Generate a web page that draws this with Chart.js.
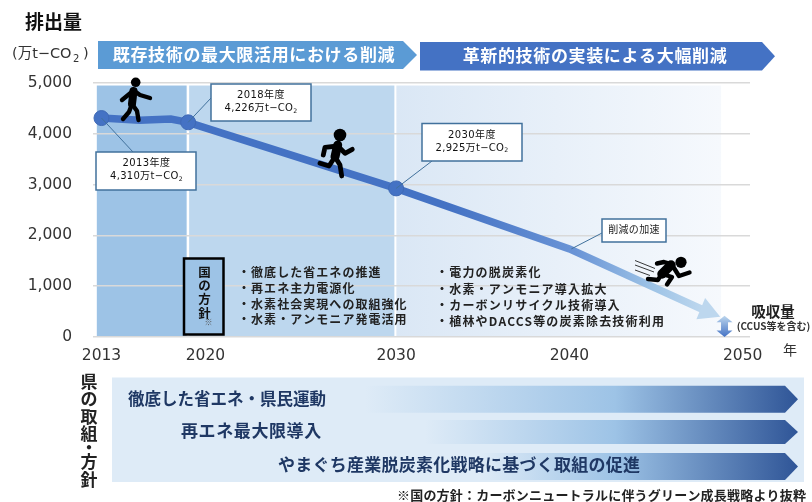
<!DOCTYPE html>
<html lang="ja">
<head>
<meta charset="utf-8">
<title>排出量</title>
<style>html,body{margin:0;padding:0;background:#fff}canvas{display:block}</style>
<script src="https://cdn.jsdelivr.net/npm/chart.js@4"></script>
</head>
<body>
<canvas id="c" width="812" height="502"></canvas>
<script>
// ---- data ----
const years = [2013, 2015.2, 2017, 2018, 2030, 2040, 2047.7];
const emissions = [4310, 4265, 4290, 4226, 2925, 1735, 540];
const markedYears = [2013, 2018, 2030];
const arrowTipYear = 2048.7;
const arrowTipValue = 400;
const absorptionYear = 2048.95;
const absorptionValue = 420;
const xTickYears = [2013, 2019, 2030, 2040, 2050];
const xTickLabels = ["2013", "2020", "2030", "2040", "2050"];
const yTicks = [0, 1000, 2000, 3000, 4000, 5000];
const bandEdges = [2012.73, 2018, 2029.9, 2048.75];
const bandTop = 4950;
const nationalPolicy = ["・徹底した省エネの推進", "・再エネ主力電源化", "・水素社会実現への取組強化", "・水素・アンモニア発電活用"];
const innovationPolicy = ["・電力の脱炭素化", "・水素・アンモニア導入拡大", "・カーボンリサイクル技術導入", "・植林やDACCS等の炭素除去技術利用"];
const prefActions = ["徹底した省エネ・県民運動", "再エネ最大限導入", "やまぐち産業脱炭素化戦略に基づく取組の促進"];

// ---- fonts / colours ----
const JP = '"Noto Sans CJK JP"';
const MIX = '"DejaVu Sans","Noto Sans CJK JP"';
const BLUE = '#4472c4', LIGHT = '#9dc3e6', PALE = '#bdd7ee', BG = '#deebf7';

function text(ctx, s, x, y, font, color, align, spacing) {
  ctx.save();
  ctx.font = font; ctx.fillStyle = color;
  ctx.textAlign = align || 'left'; ctx.textBaseline = 'middle';
  ctx.letterSpacing = (spacing || 0) + 'px';
  ctx.fillText(s, x, y);
  ctx.restore();
}
function co2(ctx, head, cx, y, size, color, spacing) {
  ctx.save();
  const f = `${size}px ${MIX}`, fs = `${size * 0.62}px ${MIX}`;
  ctx.font = f; ctx.letterSpacing = spacing + 'px';
  const w = ctx.measureText(head).width;
  ctx.font = fs; const ws = ctx.measureText('2').width;
  ctx.restore();
  const x0 = cx - (w + ws) / 2;
  text(ctx, head, x0, y, f, color, 'left', spacing);
  text(ctx, '2', x0 + w, y + size * 0.28, fs, color, 'left', 0);
}
function callout(ctx, x, y, w, h, lx0, ly0, lx1, ly1) {
  ctx.save();
  ctx.strokeStyle = '#41719c'; ctx.lineWidth = 1;
  ctx.beginPath(); ctx.moveTo(lx0, ly0); ctx.lineTo(lx1, ly1); ctx.stroke();
  ctx.lineWidth = 1.5; ctx.fillStyle = '#fff';
  ctx.fillRect(x, y, w, h); ctx.strokeRect(x, y, w, h);
  ctx.restore();
}
function poly(ctx, pts, width) {
  ctx.lineWidth = width; ctx.lineCap = 'round'; ctx.lineJoin = 'round';
  ctx.beginPath(); pts.forEach((p, i) => i ? ctx.lineTo(p[0], p[1]) : ctx.moveTo(p[0], p[1])); ctx.stroke();
}
function figure(ctx, head, r, limbs, limbW, torso, torsoW) {
  ctx.save();
  ctx.strokeStyle = '#000'; ctx.fillStyle = '#000';
  ctx.beginPath(); ctx.arc(head[0], head[1], r, 0, Math.PI * 2); ctx.fill();
  poly(ctx, torso, torsoW);
  limbs.forEach(l => poly(ctx, l, limbW));
  ctx.restore();
}
function banner(ctx, x0, bodyEnd, tip, y0, y1, color) {
  ctx.fillStyle = color;
  ctx.beginPath();
  ctx.moveTo(x0, y0); ctx.lineTo(bodyEnd, y0); ctx.lineTo(tip, (y0 + y1) / 2);
  ctx.lineTo(bodyEnd, y1); ctx.lineTo(x0, y1); ctx.closePath(); ctx.fill();
}

const bandsPlugin = {
  id: 'bands',
  beforeDraw(chart) {
    const { ctx } = chart, x = chart.scales.x, y = chart.scales.y;
    const top = y.getPixelForValue(bandTop), bot = y.getPixelForValue(0);
    const e = bandEdges.map(v => x.getPixelForValue(v));
    ctx.save();
    ctx.fillStyle = LIGHT; ctx.fillRect(e[0], top, e[1] - e[0] - 1.5, bot - top);
    ctx.fillStyle = PALE; ctx.fillRect(e[1] + 1, top, e[2] - e[1] - 1, bot - top);
    const g = ctx.createLinearGradient(e[2], 0, e[3], 0);
    g.addColorStop(0, '#dae7f5'); g.addColorStop(1, '#f6f9fd');
    ctx.fillStyle = g; ctx.fillRect(e[2] + 2, top, e[3] - e[2] - 2, bot - top);
    ctx.restore();
  }
};

const overlayPlugin = {
  id: 'overlay',
  afterDatasetsDraw(chart) {
    const { ctx } = chart, x = chart.scales.x, y = chart.scales.y;
    const px = v => x.getPixelForValue(v), py = v => y.getPixelForValue(v);

    // arrow head at the end of the line
    const n = years.length - 1;
    const bx = px(years[n]), by = py(emissions[n]), tx = px(arrowTipYear), ty = py(arrowTipValue);
    const ang = Math.atan2(ty - by, tx - bx), L = 21, W = 11.5;
    const ax = tx - Math.cos(ang) * L, ay = ty - Math.sin(ang) * L;
    ctx.save();
    ctx.fillStyle = '#bdd7ee';
    ctx.beginPath(); ctx.moveTo(tx, ty);
    ctx.lineTo(ax + Math.sin(ang) * W, ay - Math.cos(ang) * W);
    ctx.lineTo(ax - Math.sin(ang) * W, ay + Math.cos(ang) * W);
    ctx.closePath(); ctx.fill();

    // absorption double arrow
    const dx = px(absorptionYear), dt = py(absorptionValue), db = py(0);
    const g = ctx.createLinearGradient(0, dt, 0, db);
    g.addColorStop(0, '#bdd7ee'); g.addColorStop(1, BLUE);
    ctx.fillStyle = g;
    ctx.beginPath();
    ctx.moveTo(dx, dt); ctx.lineTo(dx + 8, dt + 6.5); ctx.lineTo(dx + 3.5, dt + 6.5);
    ctx.lineTo(dx + 3.5, db - 6.5); ctx.lineTo(dx + 8, db - 6.5); ctx.lineTo(dx, db);
    ctx.lineTo(dx - 8, db - 6.5); ctx.lineTo(dx - 3.5, db - 6.5); ctx.lineTo(dx - 3.5, dt + 6.5);
    ctx.lineTo(dx - 8, dt + 6.5); ctx.closePath(); ctx.fill();
    ctx.restore();

    // headings
    text(ctx, '排出量', 25, 22, `bold 19px ${JP}`, '#111', 'left', 0);
    text(ctx, '(万t−CO', 12, 54, `14.5px ${MIX}`, '#333', 'left', 0);
    text(ctx, '2', 73, 59, `10px ${MIX}`, '#333', 'left', 0);
    text(ctx, ')', 83, 54, `14.5px ${MIX}`, '#333', 'left', 0);

    // phase banners
    banner(ctx, 98, 403, 417, 41, 69, '#5b9bd5');
    banner(ctx, 420, 762, 775, 42, 70.5, BLUE);
    text(ctx, '既存技術の最大限活用における削減', 254, 55, `bold 17px ${JP}`, '#fff', 'center', 0.65);
    text(ctx, '革新的技術の実装による大幅削減', 595, 56, `bold 17px ${JP}`, '#fff', 'center', 0.65);

    // callouts
    callout(ctx, 211, 84, 100, 37, px(2018), py(4226), 211, 98);
    text(ctx, '2018年度', 261, 95, `10px ${MIX}`, '#111', 'center', 0.4);
    co2(ctx, '4,226万t−CO', 261, 108.5, 10, '#111', 0.3);

    callout(ctx, 96, 152, 100, 38, px(2013), py(4310), 133, 152);
    text(ctx, '2013年度', 146.5, 163.5, `10px ${MIX}`, '#111', 'center', 0.4);
    co2(ctx, '4,310万t−CO', 146.5, 176.5, 10, '#111', 0.3);

    callout(ctx, 422, 123.5, 100, 37.5, px(2030), py(2925), 432, 161);
    text(ctx, '2030年度', 472, 135, `10px ${MIX}`, '#111', 'center', 0.4);
    co2(ctx, '2,925万t−CO', 472, 148, 10, '#111', 0.3);

    callout(ctx, 602, 219, 64, 23, px(2040) + 2, py(1735), 602, 233);
    text(ctx, '削減の加速', 634, 229.5, `10px ${JP}`, '#222', 'center', 0.3);

    // national policy box
    ctx.save();
    ctx.fillStyle = LIGHT; ctx.strokeStyle = '#000'; ctx.lineWidth = 2.5;
    ctx.fillRect(184, 258.5, 39.5, 76); ctx.strokeRect(184, 258.5, 39.5, 76);
    ctx.restore();
    [['国', 272], ['の', 285], ['方', 299], ['針', 313]].forEach(c =>
      text(ctx, c[0], 204.5, c[1], `bold 12.5px ${JP}`, '#111', 'center'));
    text(ctx, '※', 208.5, 322, `8px ${JP}`, '#555', 'center');

    const ly1 = [272, 288, 304, 319], ly2 = [272.5, 289, 305, 321];
    nationalPolicy.forEach((s, i) => text(ctx, s, 238, ly1[i], `bold 12px ${JP}`, '#222', 'left', 1.05));
    innovationPolicy.forEach((s, i) => text(ctx, s, 436, ly2[i], `bold 12px ${JP}`, '#222', 'left', 1.2));

    // absorption label and axis unit
    text(ctx, '吸収量', 773, 311, `bold 14.5px ${JP}`, '#222', 'center');
    text(ctx, '(CCUS等を含む)', 773.5, 326, `bold 10px ${JP}`, '#333', 'center');
    text(ctx, '年', 790, 350, `14px ${JP}`, '#333', 'center');

    // runners
    figure(ctx, [135.7, 82.3], 4.8,
      [[[133, 91], [122, 100]], [[133, 90], [140, 95], [150, 98]],
       [[132, 104], [129, 112], [123, 119]], [[132, 104], [137, 111], [138.5, 120]]],
      4.4, [[133.5, 91], [132, 104]], 8);
    figure(ctx, [340, 135], 6.3,
      [[[337.7, 146], [325, 147.3], [323.3, 155]], [[340, 148.3], [345, 153.3], [352.3, 149.3]],
       [[335, 156.7], [329, 166], [320, 163.3]], [[335, 156.7], [340, 165], [341.7, 176]]],
      4.8, [[337.7, 145], [335, 156.7]], 9);
    figure(ctx, [681, 262.3], 5.6,
      [[[671, 264], [664, 262], [657, 263.5]], [[674, 268], [679, 276], [689.5, 272.5]],
       [[662, 273], [658, 280], [648, 279]], [[662, 274], [672, 277], [667, 284.5]]],
      4.4, [[671, 265], [662, 274]], 9.5);
    ctx.save();
    ctx.strokeStyle = '#222'; ctx.lineWidth = 0.9;
    [[635, 260.5, 655, 268.5], [635, 265, 654, 272], [635, 270, 650, 275.5]].forEach(s => {
      ctx.beginPath(); ctx.moveTo(s[0], s[1]); ctx.lineTo(s[2], s[3]); ctx.stroke();
    });
    ctx.restore();

    // prefectural section
    [['県', 382], ['の', 399], ['取', 417], ['組', 434], ['・', 448], ['方', 462], ['針', 480]].forEach(c =>
      text(ctx, c[0], 89, c[1], `bold 17px ${JP}`, '#222', 'center'));
    ctx.fillStyle = '#deebf7';
    ctx.fillRect(112, 377.5, 692, 104.5);
    const rows = [[385.7, 412.7, 365], [420, 444, 425], [453, 480, 480]];
    rows.forEach(r => {
      const gr = ctx.createLinearGradient(r[2], 0, 798, 0);
      const mid = (615 - r[2]) / (798 - r[2]);
      gr.addColorStop(0, '#deebf7'); gr.addColorStop(mid, LIGHT); gr.addColorStop(1, '#2f5597');
      banner(ctx, r[2], 785, 798, r[0], r[1], gr);
    });
    const tx0 = [128, 181, 278], ty0 = [399, 431, 465], fs0 = [16.5, 17, 17], sp = [0, 0.6, 0.25];
    prefActions.forEach((s, i) => text(ctx, s, tx0[i], ty0[i], `bold ${fs0[i]}px ${JP}`, '#1f3864', 'left', sp[i]));
    text(ctx, '※国の方針：カーボンニュートラルに伴うグリーン成長戦略より抜粋', 397, 495, `bold 13px ${JP}`, '#222', 'left', 0.2);
  }
};

new Chart(document.getElementById('c'), {
  type: 'line',
  data: {
    labels: years,
    datasets: [{
      data: years.map((yr, i) => ({ x: yr, y: emissions[i] })),
      tension: 0,
      borderWidth: 7.5,
      borderCapStyle: 'butt',
      borderColor(ctx) {
        const { chart } = ctx, a = chart.scales.x;
        if (!a || !chart.chartArea) return BLUE;
        const x0 = a.getPixelForValue(2033), x1 = a.getPixelForValue(years[years.length - 1]);
        const g = chart.ctx.createLinearGradient(x0, 0, x1, 0);
        g.addColorStop(0, BLUE); g.addColorStop(0.5, '#6a94d6'); g.addColorStop(0.8, LIGHT); g.addColorStop(1, PALE);
        return g;
      },
      pointRadius: c => markedYears.includes(years[c.dataIndex]) ? 7.5 : 0,
      pointBackgroundColor: BLUE,
      pointBorderColor: '#3f69b5',
      pointBorderWidth: 1,
      clip: false
    }]
  },
  options: {
    responsive: false,
    animation: false,
    parsing: true,
    layout: { padding: { top: 83, right: 62, left: 0, bottom: 0 } },
    plugins: { legend: { display: false }, tooltip: { enabled: false }, title: { display: false } },
    scales: {
      x: {
        type: 'linear',
        min: 2012.51,
        max: 2050.42,
        afterFit(s) { s.height = 165; },
        afterBuildTicks(s) { s.ticks = xTickYears.map(v => ({ value: v })); },
        grid: { display: false, drawTicks: false },
        border: { display: false },
        ticks: {
          autoSkip: false, maxRotation: 0, padding: 10,
          color: '#333',
          font: { family: 'DejaVu Sans', size: 15.5 },
          callback(v) { const i = xTickYears.indexOf(v); return i >= 0 ? xTickLabels[i] : ''; }
        }
      },
      y: {
        min: 0, max: 5000,
        afterFit(s) { s.width = 93; },
        afterBuildTicks(s) { s.ticks = yTicks.map(v => ({ value: v })); },
        grid: { color: '#d9d9d9', lineWidth: 1.5, drawTicks: false },
        border: { display: false },
        ticks: {
          padding: 21,
          color: '#333',
          font: { family: 'DejaVu Sans', size: 15.5 },
          callback: v => v.toLocaleString('en-US')
        }
      }
    }
  },
  plugins: [bandsPlugin, overlayPlugin]
});
</script>
</body>
</html>
